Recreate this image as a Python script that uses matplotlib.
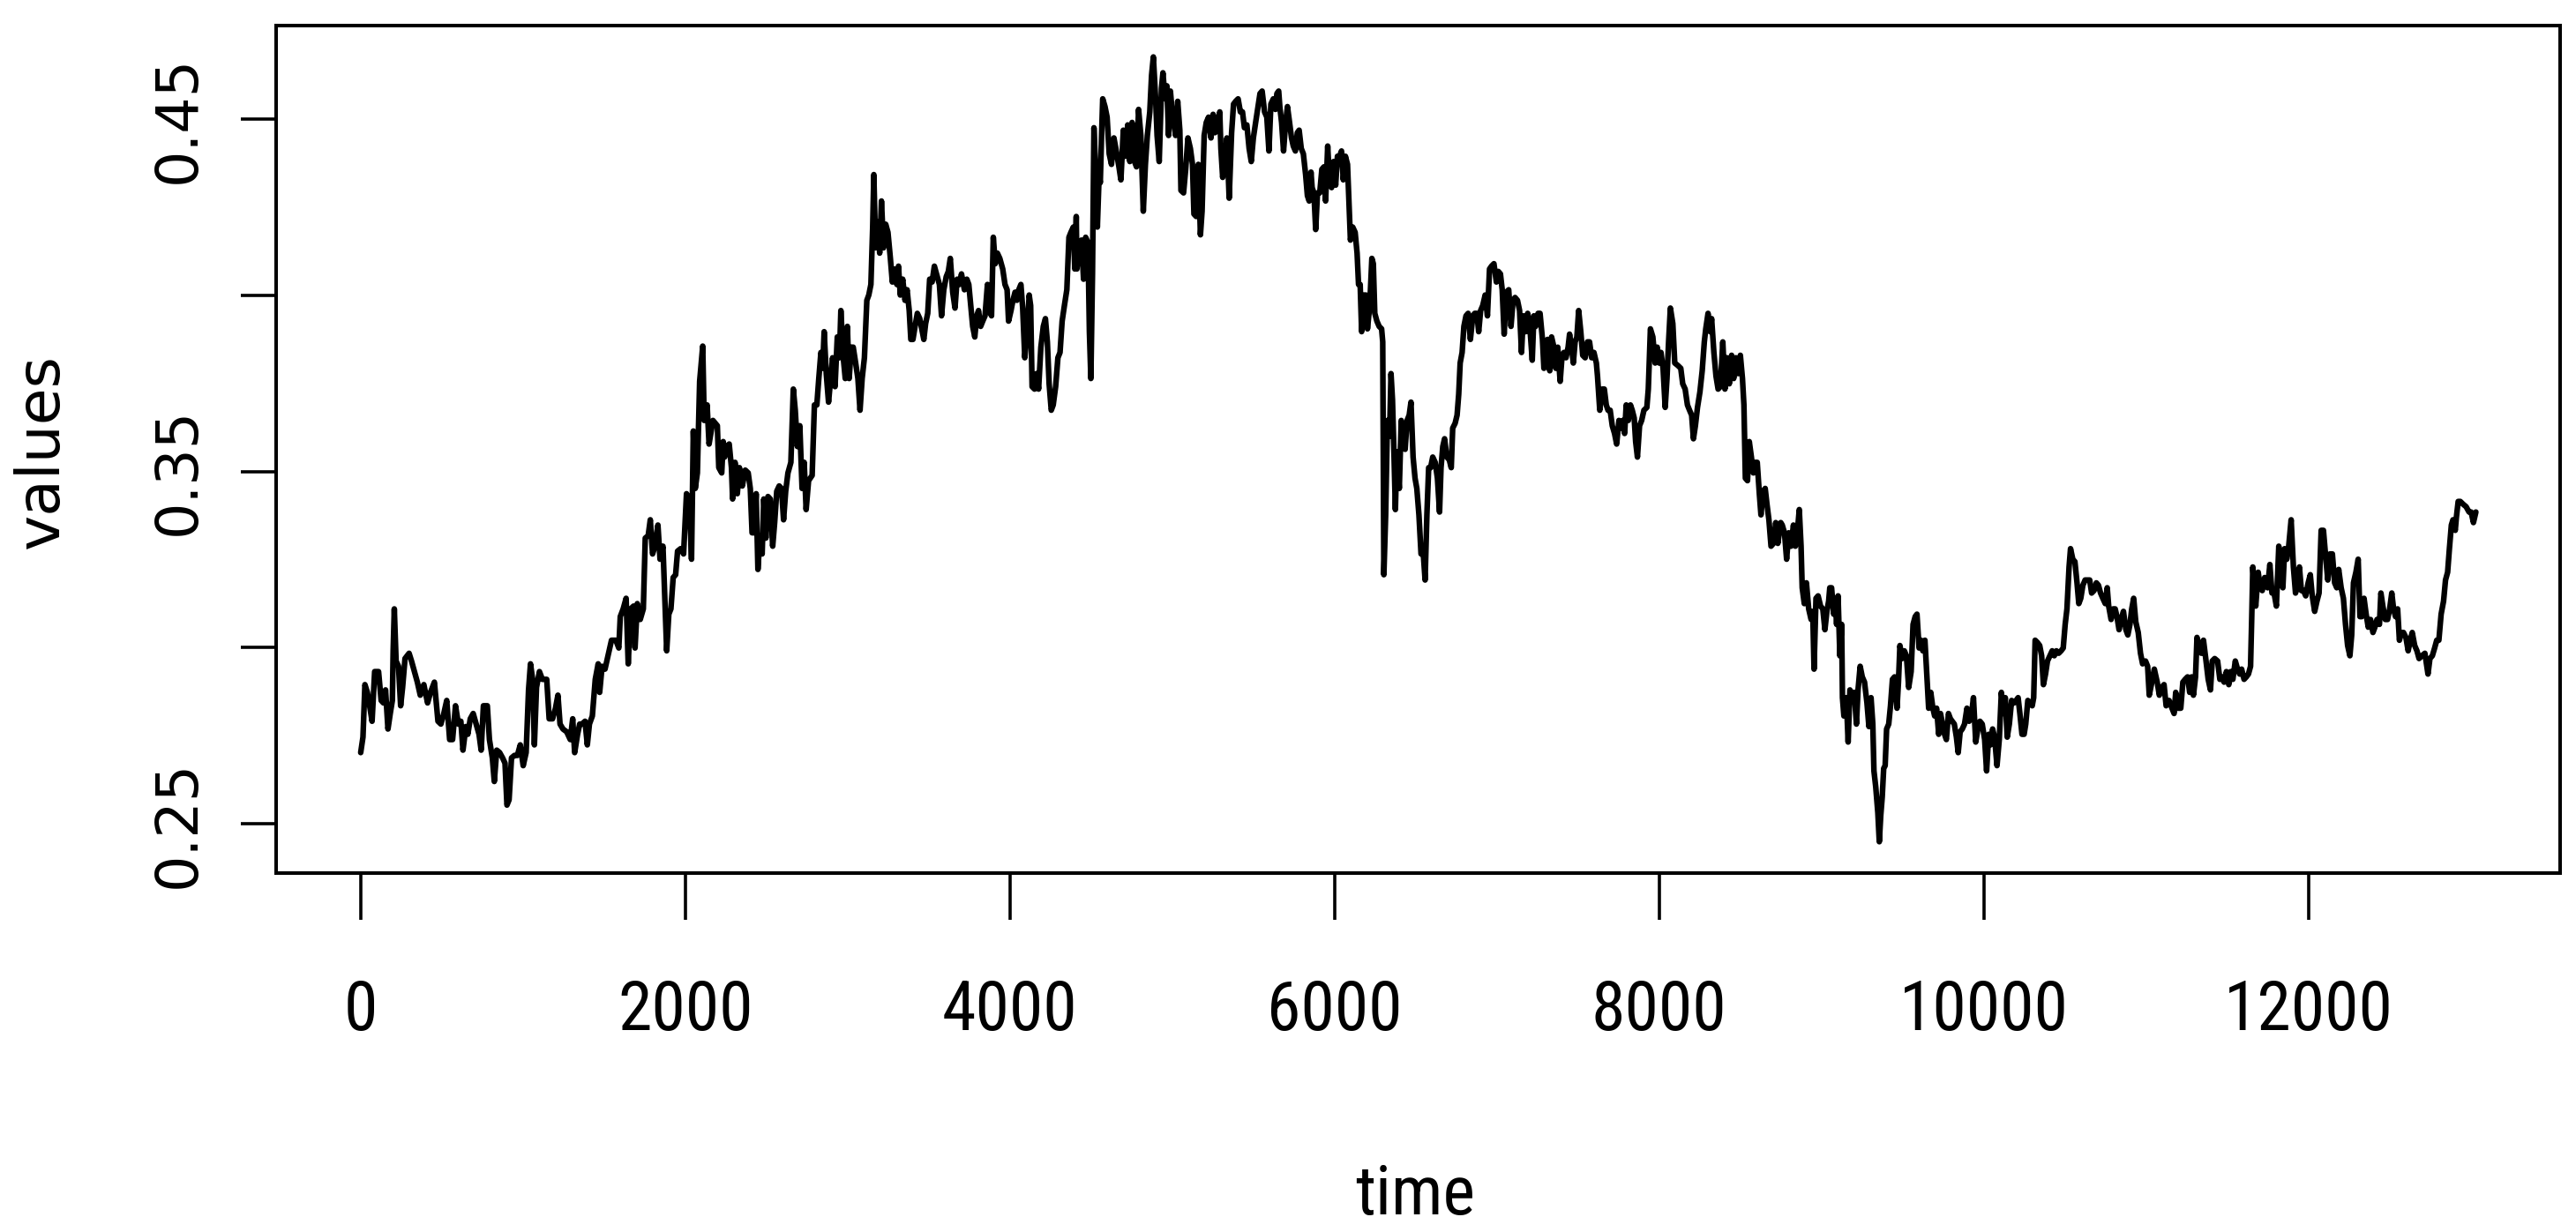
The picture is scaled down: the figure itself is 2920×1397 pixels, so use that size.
import numpy as np
import matplotlib
matplotlib.use("Agg")
import matplotlib.pyplot as plt

# time series, one pair of lists per stretch of the x axis
t_seg1 = [1, 15, 27, 42, 56, 71, 87, 111, 127, 141, 154, 169, 183, 196, 201, 208, 219, 234, 247, 259,
          274, 299, 314, 332, 350, 368, 390, 413, 431, 455, 477, 495, 513, 531, 549, 567, 585, 603, 618, 631,
          649, 661, 676, 694, 712, 730, 743, 757, 781, 794, 812, 824, 839, 857, 875, 890, 902, 915, 930, 948,
          966, 984, 1002, 1020, 1035, 1047, 1060, 1071, 1084, 1102, 1120, 1147, 1162, 1183, 1201, 1216, 1229,
          1247, 1270, 1292, 1307, 1319, 1337, 1350, 1365, 1383, 1397, 1410, 1428, 1446, 1464, 1473, 1488, 1506,
          1528, 1546, 1573, 1591, 1600, 1618, 1636, 1649, 1664, 1682, 1691, 1705, 1723, 1742, 1754, 1772, 1785,
          1799, 1814, 1832, 1845, 1863, 1872, 1886, 1899, 1912, 1926, 1941, 1953, 1972, 1990, 2008, 2026, 2039,
          2050, 2062, 2075, 2089, 2108, 2117, 2135, 2147, 2171, 2198, 2207, 2225, 2234]
v_seg1 = [.2702, .2746, .2895, .2873, .2835, .2791, .2932, .2932, .2850, .2843, .2880, .2769, .2813, .2850,
          .2991, .3110, .2962, .2947, .2835, .2887, .2969, .2984, .2962, .2932, .2902, .2865, .2895, .2843,
          .2873, .2902, .2791, .2783, .2813, .2850, .2739, .2739, .2835, .2783, .2791, .2709, .2776, .2754,
          .2798, .2813, .2783, .2754, .2709, .2835, .2835, .2739, .2687, .2620, .2709, .2702, .2687, .2672,
          .2553, .2568, .2687, .2694, .2694, .2724, .2665, .2702, .2880, .2954, .2910, .2724, .2887, .2932,
          .2910, .2910, .2798, .2798, .2828, .2865, .2783, .2769, .2761, .2739, .2798, .2702, .2754, .2783,
          .2783, .2791, .2724, .2783, .2806, .2910, .2954, .2873, .2947, .2939, .2984, .3021, .3021, .2999,
          .3088, .3110, .3140, .2954, .3110, .3118, .2999, .3125, .3080, .3110, .3311, .3318, .3363, .3266,
          .3288, .3348, .3251, .3288, .3170, .2991, .3095, .3110, .3199, .3207, .3274, .3281, .3266, .3437,
          .3422, .3251, .3615, .3452, .3496, .3756, .3856, .3645, .3689, .3578, .3645, .3630, .3511, .3496,
          .3585]

t_seg2 = [2243, 2256, 2271, 2285, 2292, 2307, 2321, 2334, 2352, 2370, 2388, 2401, 2412, 2425, 2437, 2448,
          2461, 2474, 2484, 2497, 2510, 2524, 2539, 2551, 2564, 2579, 2593, 2606, 2619, 2633, 2651, 2666,
          2678, 2691, 2706, 2720, 2733, 2745, 2760, 2782, 2796, 2811, 2823, 2836, 2847, 2856, 2869, 2883,
          2896, 2908, 2923, 2937, 2950, 2959, 2974, 2986, 2999, 3010, 3023, 3035, 3050, 3064, 3077, 3090,
          3104, 3119, 3131, 3144, 3155, 3162, 3173, 3186, 3198, 3209, 3222, 3235, 3249, 3264, 3276, 3289,
          3304, 3314, 3325, 3340, 3354, 3367, 3380, 3390, 3403, 3416, 3430, 3445, 3457, 3470, 3481, 3494,
          3506, 3521, 3535, 3548, 3566, 3579, 3593, 3608, 3621, 3633, 3648, 3662, 3675, 3688, 3702, 3720,
          3735, 3747, 3756, 3771, 3784, 3796, 3807, 3820, 3833, 3847, 3862, 3874, 3887, 3898, 3910, 3923,
          3938, 3956, 3970, 3983, 3992, 4007, 4019, 4032, 4043, 4055, 4068, 4079, 4092, 4104, 4119, 4128,
          4137, 4152, 4164, 4177, 4191, 4206, 4219, 4231, 4242, 4255, 4267, 4282, 4296, 4309, 4322, 4336,
          4351, 4364, 4376, 4391, 4400, 4409]
v_seg2 = [.3541, .3571, .3578, .3511, .3422, .3526, .3437, .3511, .3459, .3504, .3496, .3452, .3326, .3326,
          .3437, .3222, .3318, .3266, .3422, .3311, .3429, .3422, .3288, .3355, .3444, .3459, .3452, .3363,
          .3444, .3496, .3526, .3734, .3674, .3571, .3630, .3452, .3526, .3392, .3474, .3489, .3689, .3689,
          .3764, .3838, .3793, .3897, .3778, .3697, .3764, .3823, .3741, .3882, .3823, .3957, .3823, .3764,
          .3912, .3764, .3853, .3853, .3808, .3764, .3674, .3764, .3823, .3986, .4001, .4031, .4194, .4343,
          .4135, .4209, .4120, .4268, .4135, .4202, .4179, .4105, .4038, .4075, .4031, .4083, .4001, .4046,
          .3986, .4016, .3957, .3875, .3875, .3912, .3949, .3934, .3905, .3875, .3920, .3949, .4046, .4038,
          .4083, .4061, .4031, .3942, .4016, .4053, .4068, .4105, .4009, .3964, .4046, .4031, .4061, .4016,
          .4046, .4031, .3986, .3912, .3882, .3942, .3957, .3912, .3927, .3942, .4031, .3957, .3942, .4165,
          .4090, .4120, .4105, .4075, .4031, .4016, .3927, .3957, .3986, .4009, .3986, .4016, .4031, .3964,
          .3823, .3882, .4001, .3971, .3741, .3734, .3778, .3734, .3853, .3912, .3934, .3868, .3749, .3674,
          .3689, .3741, .3823, .3838, .3927, .3971, .4016, .4165, .4179, .4194, .4075, .4224]

t_seg3 = [4413, 4427, 4441, 4454, 4467, 4481, 4490, 4499, 4509, 4518, 4528, 4539, 4550, 4557, 4565, 4572,
          4586, 4599, 4612, 4626, 4641, 4653, 4672, 4684, 4699, 4713, 4726, 4739, 4753, 4768, 4780, 4793,
          4807, 4822, 4835, 4847, 4862, 4873, 4884, 4898, 4907, 4920, 4934, 4943, 4956, 4967, 4978, 4989,
          5000, 5010, 5021, 5034, 5047, 5054, 5070, 5083, 5097, 5112, 5125, 5134, 5148, 5161, 5174, 5184,
          5197, 5210, 5224, 5239, 5252, 5264, 5279, 5293, 5300, 5311, 5324, 5337, 5351, 5366, 5378, 5391,
          5406, 5420, 5433, 5445, 5460, 5474, 5487, 5500, 5514, 5529, 5541, 5554, 5569, 5583, 5596, 5608,
          5623, 5636, 5645, 5656, 5663, 5674, 5686, 5699, 5710, 5723, 5735, 5746, 5759, 5771, 5782, 5795,
          5808, 5822, 5833, 5844, 5855, 5862, 5873, 5884, 5895, 5909, 5922, 5935, 5945, 5958, 5967, 5982,
          5994, 6007, 6018, 6031, 6043, 6054, 6067, 6080, 6090, 6098, 6112, 6127, 6139, 6148, 6158, 6167,
          6181, 6194, 6203, 6217, 6230, 6239, 6248, 6261, 6275, 6290, 6297, 6304, 6315, 6326, 6339, 6348,
          6357, 6366, 6375, 6384, 6399, 6411, 6424, 6435, 6447, 6460, 6471, 6484, 6496, 6507, 6520, 6533,
          6547, 6558, 6569, 6580]
v_seg3 = [.4075, .4150, .4157, .4046, .4165, .4150, .3897, .3764, .4061, .4476, .4365, .4194, .4343, .4320,
          .4454, .4558, .4536, .4506, .4402, .4372, .4447, .4417, .4365, .4328, .4469, .4395, .4484, .4380,
          .4491, .4380, .4365, .4528, .4454, .4239, .4372, .4454, .4521, .4625, .4677, .4558, .4454, .4380,
          .4588, .4632, .4558, .4595, .4454, .4580, .4521, .4491, .4454, .4551, .4469, .4298, .4291, .4358,
          .4447, .4417, .4372, .4231, .4224, .4372, .4172, .4239, .4454, .4491, .4506, .4447, .4514, .4462,
          .4491, .4521, .4417, .4335, .4387, .4447, .4276, .4462, .4543, .4551, .4558, .4521, .4521, .4476,
          .4484, .4417, .4380, .4447, .4491, .4536, .4573, .4580, .4521, .4506, .4410, .4543, .4558, .4528,
          .4573, .4580, .4536, .4491, .4410, .4491, .4536, .4491, .4447, .4424, .4410, .4462, .4469, .4417,
          .4402, .4343, .4283, .4268, .4350, .4306, .4291, .4187, .4291, .4291, .4358, .4365, .4268, .4424,
          .4343, .4306, .4380, .4313, .4395, .4395, .4410, .4328, .4395, .4372, .4254, .4157, .4194, .4179,
          .4120, .4031, .4031, .3897, .4001, .4001, .3905, .3971, .4105, .4090, .3949, .3927, .3912, .3905,
          .3868, .3207, .3377, .3645, .3600, .3778, .3704, .3556, .3392, .3556, .3452, .3645, .3585, .3563,
          .3645, .3660, .3697, .3541, .3481, .3452, .3377, .3266, .3266, .3192, .3377, .3511]

t_seg4 = [6592, 6605, 6620, 6634, 6647, 6656, 6667, 6678, 6692, 6707, 6719, 6728, 6743, 6755, 6765, 6774,
          6786, 6797, 6810, 6823, 6837, 6852, 6864, 6877, 6888, 6900, 6913, 6928, 6942, 6955, 6967, 6982,
          6997, 7009, 7022, 7033, 7045, 7058, 7073, 7087, 7100, 7112, 7127, 7140, 7152, 7163, 7178, 7190,
          7203, 7218, 7228, 7239, 7254, 7266, 7281, 7290, 7301, 7312, 7326, 7337, 7348, 7363, 7375, 7390,
          7402, 7413, 7426, 7439, 7448, 7462, 7471, 7482, 7493, 7504, 7517, 7529, 7544, 7558, 7571, 7584,
          7598, 7613, 7620, 7634, 7649, 7662, 7674, 7685, 7698, 7711, 7725, 7738, 7752, 7765, 7776, 7787,
          7797, 7810, 7823, 7834, 7846, 7855, 7866, 7879, 7892, 7906, 7924, 7933, 7946, 7961, 7975, 7988,
          8000, 8011, 8024, 8037, 8048, 8058, 8069, 8084, 8096, 8115, 8133, 8145, 8160, 8174, 8187, 8200,
          8211, 8223, 8236, 8251, 8265, 8278, 8287, 8301, 8314, 8323, 8337, 8350, 8363, 8377, 8392, 8405,
          8417, 8432, 8446, 8459, 8472, 8486, 8500, 8513, 8522, 8531, 8544, 8555, 8568, 8580, 8591, 8604,
          8617, 8627, 8640, 8653, 8664, 8676, 8689, 8704, 8718, 8731, 8749]
v_seg4 = [.3511, .3541, .3526, .3481, .3385, .3511, .3571, .3593, .3541, .3533, .3511, .3623, .3637, .3660,
          .3719, .3808, .3838, .3912, .3942, .3949, .3875, .3942, .3949, .3949, .3897, .3957, .3971, .4001,
          .3942, .4075, .4083, .4090, .4038, .4068, .4061, .4016, .3890, .4009, .4016, .3912, .3986, .3994,
          .3986, .3957, .3838, .3942, .3897, .3949, .3912, .3816, .3942, .3912, .3949, .3949, .3875, .3793,
          .3853, .3875, .3786, .3882, .3860, .3793, .3853, .3756, .3830, .3838, .3823, .3853, .3890, .3845,
          .3808, .3868, .3882, .3957, .3897, .3830, .3823, .3868, .3868, .3823, .3838, .3808, .3771, .3674,
          .3734, .3734, .3689, .3674, .3674, .3630, .3608, .3578, .3645, .3623, .3645, .3608, .3689, .3645,
          .3689, .3674, .3652, .3585, .3541, .3630, .3645, .3674, .3682, .3734, .3905, .3882, .3808, .3853,
          .3808, .3838, .3793, .3682, .3764, .3868, .3964, .3920, .3808, .3801, .3793, .3749, .3734, .3689,
          .3674, .3660, .3593, .3630, .3682, .3726, .3786, .3868, .3905, .3949, .3897, .3934, .3838, .3771,
          .3734, .3741, .3868, .3734, .3823, .3749, .3830, .3764, .3823, .3778, .3830, .3764, .3689, .3481,
          .3474, .3585, .3541, .3496, .3526, .3526, .3437, .3377, .3444, .3452, .3407, .3363, .3288, .3296,
          .3355, .3296, .3355]

t_seg5 = [8758, 8772, 8785, 8798, 8812, 8827, 8839, 8852, 8863, 8874, 8881, 8894, 8907, 8921, 8936, 8946,
          8954, 8966, 8979, 8994, 9008, 9021, 9033, 9044, 9051, 9062, 9075, 9084, 9093, 9102, 9113, 9124,
          9129, 9138, 9153, 9164, 9175, 9189, 9202, 9215, 9225, 9238, 9251, 9265, 9280, 9292, 9305, 9316,
          9323, 9334, 9347, 9356, 9365, 9374, 9383, 9392, 9401, 9414, 9425, 9437, 9450, 9465, 9474, 9483,
          9497, 9510, 9523, 9537, 9552, 9564, 9577, 9588, 9601, 9613, 9624, 9637, 9650, 9660, 9673, 9686,
          9697, 9709, 9722, 9733, 9746, 9758, 9769, 9782, 9794, 9805, 9818, 9831, 9842, 9854, 9867, 9881,
          9896, 9909, 9921, 9936, 9950, 9963, 9976, 9990, 10005, 10017, 10030, 10041, 10054, 10066, 10081,
          10095, 10108, 10121, 10132, 10144, 10157, 10171, 10186, 10199, 10211, 10222, 10235, 10248, 10258,
          10271, 10284, 10298, 10307, 10316, 10331, 10344, 10356, 10367, 10380, 10392, 10407, 10421, 10434,
          10447, 10461, 10476, 10489, 10501, 10512, 10525, 10534, 10548, 10561, 10574, 10585, 10597, 10610,
          10624, 10639, 10652, 10664, 10679, 10693, 10706, 10719, 10733, 10748, 10760, 10769, 10784, 10797,
          10809, 10820, 10833, 10846, 10860, 10875, 10887, 10900, 10911, 10923]
v_seg5 = [.3348, .3326, .3251, .3326, .3288, .3348, .3288, .3333, .3392, .3288, .3170, .3125, .3184, .3110,
          .3080, .3103, .2939, .3140, .3147, .3118, .3110, .3051, .3103, .3132, .3170, .3170, .3095, .3140,
          .3066, .3147, .2977, .3066, .2858, .2806, .2858, .2732, .2880, .2865, .2873, .2783, .2880, .2947,
          .2917, .2902, .2843, .2776, .2858, .2783, .2650, .2605, .2531, .2449, .2524, .2576, .2657, .2665,
          .2769, .2783, .2835, .2910, .2917, .2828, .2902, .3006, .2969, .2991, .2977, .2887, .2932, .3066,
          .3088, .3095, .2999, .3021, .2991, .3021, .2910, .2828, .2873, .2828, .2806, .2828, .2754, .2813,
          .2783, .2754, .2739, .2813, .2798, .2791, .2783, .2746, .2702, .2761, .2769, .2783, .2828, .2791,
          .2798, .2858, .2732, .2769, .2791, .2783, .2739, .2650, .2754, .2724, .2769, .2746, .2665, .2739,
          .2873, .2813, .2858, .2746, .2783, .2850, .2843, .2850, .2858, .2813, .2754, .2754, .2783, .2850,
          .2843, .2835, .2858, .3021, .3014, .3006, .2977, .2895, .2925, .2962, .2977, .2991, .2977, .2991,
          .2984, .2991, .2999, .3066, .3110, .3229, .3281, .3251, .3244, .3184, .3125, .3140, .3177, .3192,
          .3192, .3192, .3155, .3162, .3184, .3177, .3155, .3140, .3125, .3170, .3118, .3080, .3110, .3110,
          .3088, .3051, .3080, .3103, .3051, .3036, .3066, .3110, .3140]

t_seg6 = [10936, 10951, 10965, 10978, 10996, 11009, 11019, 11032, 11050, 11068, 11081, 11096, 11110, 11123,
          11141, 11159, 11172, 11182, 11195, 11213, 11226, 11240, 11255, 11268, 11280, 11291, 11304, 11313,
          11327, 11340, 11353, 11367, 11382, 11396, 11407, 11422, 11440, 11454, 11467, 11480, 11494, 11509,
          11521, 11534, 11549, 11563, 11576, 11588, 11603, 11617, 11630, 11643, 11650, 11657, 11666, 11675,
          11690, 11703, 11715, 11730, 11748, 11762, 11775, 11788, 11802, 11817, 11829, 11842, 11853, 11866,
          11878, 11893, 11907, 11920, 11933, 11944, 11956, 11969, 11983, 11998, 12011, 12023, 12038, 12052,
          12065, 12078, 12092, 12107, 12119, 12132, 12147, 12161, 12174, 12186, 12201, 12215, 12228, 12241,
          12255, 12266, 12277, 12292, 12306, 12317, 12328, 12342, 12355, 12368, 12382, 12397, 12409, 12422,
          12437, 12446, 12458, 12473, 12487, 12500, 12513, 12524, 12536, 12549, 12560, 12572, 12585, 12600,
          12614, 12627, 12639, 12654, 12668, 12681, 12699, 12717, 12736, 12748, 12763, 12777, 12790, 12803,
          12817, 12832, 12844, 12857, 12868, 12880, 12890, 12904, 12911, 12922, 12935, 12953, 12971, 12989,
          13002, 13016, 13031]
v_seg6 = [.3073, .3043, .2984, .2954, .2962, .2947, .2865, .2895, .2939, .2902, .2865, .2887, .2895, .2835,
          .2850, .2828, .2813, .2873, .2828, .2828, .2902, .2910, .2917, .2873, .2917, .2865, .2917, .3029,
          .3006, .2984, .3021, .2969, .2910, .2880, .2962, .2969, .2962, .2910, .2917, .2902, .2932, .2895,
          .2932, .2910, .2962, .2939, .2925, .2939, .2910, .2917, .2925, .2947, .3080, .3229, .3170, .3118,
          .3214, .3170, .3162, .3199, .3170, .3236, .3155, .3155, .3118, .3288, .3199, .3170, .3281, .3251,
          .3288, .3363, .3229, .3155, .3184, .3229, .3162, .3162, .3147, .3184, .3207, .3147, .3103, .3132,
          .3155, .3333, .3333, .3251, .3192, .3266, .3266, .3184, .3170, .3222, .3170, .3140, .3066, .3006,
          .2977, .3036, .3184, .3214, .3251, .3088, .3088, .3140, .3095, .3058, .3080, .3043, .3058, .3080,
          .3066, .3155, .3118, .3080, .3080, .3110, .3155, .3110, .3088, .3110, .3021, .3043, .3043, .3029,
          .2991, .3021, .3043, .3006, .2991, .2969, .2977, .2984, .2925, .2969, .2977, .2999, .3021, .3021,
          .3095, .3132, .3192, .3214, .3281, .3348, .3363, .3333, .3370, .3415, .3415, .3407, .3400, .3385,
          .3385, .3355, .3385]

x_ticks = [0, 2000, 4000, 6000, 8000, 10000, 12000]
x_tick_labels = ["0", "2000", "4000", "6000", "8000", "10000", "12000"]
y_ticks = [0.25, 0.30, 0.35, 0.40, 0.45]
y_tick_labels = ["0.25", "", "0.35", "", "0.45"]

time = np.concatenate([t_seg1, t_seg2, t_seg3, t_seg4, t_seg5, t_seg6])
values = np.concatenate([v_seg1, v_seg2, v_seg3, v_seg4, v_seg5, v_seg6])

narrow = ["Roboto Condensed", "Liberation Sans Narrow", "Liberation Sans", "DejaVu Sans"]
wide = ["DejaVu Sans"]

W, H = 2920, 1397
fig = plt.figure(figsize=(W / 100, H / 100), dpi=100, facecolor="white")
ax = fig.add_axes([313 / W, 1 - 990 / H, (2902 - 313) / W, (990 - 29.4) / H])

ax.plot(time, values, color="black", lw=4.6, solid_joinstyle="round", solid_capstyle="round")

ax.set_xlim(-520, 13550)
ax.set_ylim(0.2360, 0.4765)

ax.set_xticks(x_ticks)
ax.set_xticklabels(x_tick_labels, fontfamily=narrow, fontsize=56)
ax.set_yticks(y_ticks)
ax.set_yticklabels(y_tick_labels, fontfamily=wide, fontsize=47, rotation=90, va="center")

ax.tick_params(axis="x", direction="out", length=38, width=2.6, pad=48, colors="black")
ax.tick_params(axis="y", direction="out", length=29, width=2.6, pad=27, colors="black")
for s in ax.spines.values():
    s.set_linewidth(2.9)
    s.set_color("black")

fig.text(1604 / W, 1 - 1377 / H, "time", fontfamily=narrow, fontsize=56,
         ha="center", va="baseline")
fig.text(47 / W, 1 - 512 / H, "values", fontfamily=wide, fontsize=49,
         rotation=90, ha="center", va="center")

fig.savefig("out.png", dpi=100, facecolor="white")
